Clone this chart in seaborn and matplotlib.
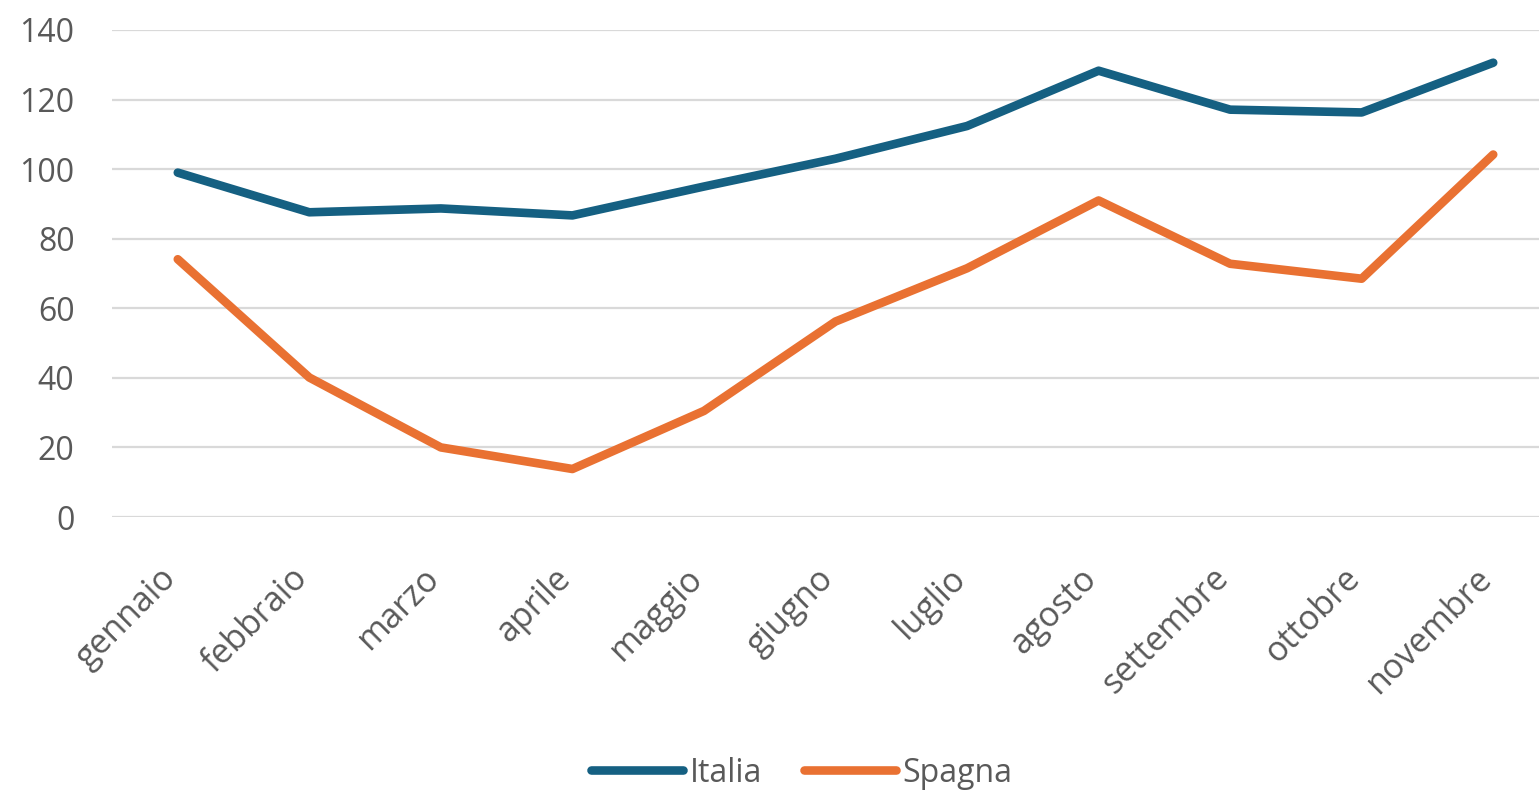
import matplotlib
matplotlib.use("Agg")
import matplotlib.pyplot as plt
import matplotlib.transforms as mtransforms
import seaborn as sns
import pandas as pd

mesi = ['gennaio', 'febbraio', 'marzo', 'aprile', 'maggio', 'giugno',
        'luglio', 'agosto', 'settembre', 'ottobre', 'novembre']
italia = [99, 87.6, 88.7, 86.7, 95, 103, 112.4, 128.3, 117.1, 116.3, 130.6]
spagna = [74.1, 40.1, 20, 13.8, 30.5, 56.2, 71.5, 91, 72.8, 68.5, 104.2]
serie = ['Italia', 'Spagna']
colori = ['#156082', '#E97132']

df = pd.DataFrame({
    'mese': mesi * 2,
    'valore': italia + spagna,
    'paese': ['Italia'] * len(mesi) + ['Spagna'] * len(mesi),
})

sns.set_style('white')
plt.rcParams['font.family'] = ['Open Sans', 'DejaVu Sans']

fig = plt.figure(figsize=(15.39, 7.93), dpi=100)
ax = fig.add_axes([112 / 1539, 276 / 793, 1447 / 1539, 487 / 793])

sns.lineplot(data=df, x='mese', y='valore', hue='paese', hue_order=serie,
             palette=colori, linewidth=6.2, ax=ax, sort=False,
             solid_capstyle='round', solid_joinstyle='round')

ax.set_xlim(-0.5, 10.5)
ax.set_ylim(0, 140)
ax.set_yticks(range(0, 141, 20))
ax.grid(axis='y', color='#D9D9D9', linewidth=1.6)
ax.set_axisbelow(True)
for s in ax.spines.values():
    s.set_visible(False)
ax.set_xlabel('')
ax.set_ylabel('')
ax.tick_params(axis='y', length=0, pad=27, labelsize=23, labelcolor='#595959')
ax.tick_params(axis='x', length=0, pad=32, labelsize=24.5, labelcolor='#595959')
shift = mtransforms.ScaledTranslation(-19 / 100, 0, fig.dpi_scale_trans)
for lab in ax.get_xticklabels():
    lab.set_rotation(45)
    lab.set_ha('right')
    lab.set_rotation_mode('anchor')
    lab.set_transform(lab.get_transform() + shift)

ax.get_legend().remove()
handles, labels = ax.get_legend_handles_labels()
leg = fig.legend(handles, labels, loc='center', bbox_to_anchor=(0.521, 0.025),
                 ncol=2, frameon=False, fontsize=23, handlelength=2.9,
                 handletextpad=0.2, columnspacing=1.3)
for t in leg.get_texts():
    t.set_color('#595959')
for h in leg.get_lines():
    h.set_linewidth(6.2)
    h.set_solid_capstyle('round')

fig.savefig('out.png', dpi=100)
